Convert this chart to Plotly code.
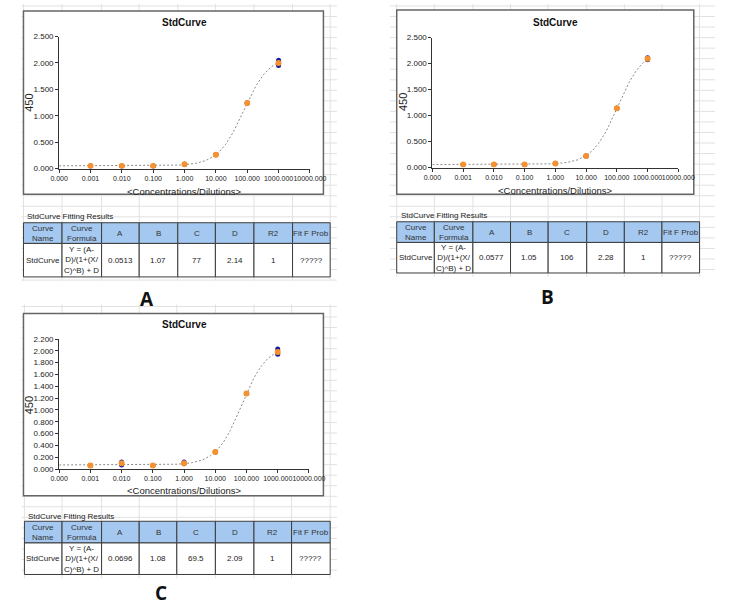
import numpy as np
import plotly.graph_objects as go

# ---------------- data ----------------
conc = [0.001, 0.01, 0.1, 1, 10, 100, 1000]

a_mean = [0.05, 0.05, 0.05, 0.08, 0.26, 1.24, 2.00]
a_rep1 = [0.05, 0.05, 0.05, 0.08, 0.26, 1.24, 2.05]
a_rep2 = [0.05, 0.05, 0.05, 0.08, 0.26, 1.24, 1.95]

b_mean = [0.06, 0.06, 0.06, 0.08, 0.22, 1.14, 2.09]
b_rep1 = [0.06, 0.06, 0.06, 0.08, 0.22, 1.14, 2.11]
b_rep2 = [0.06, 0.06, 0.06, 0.08, 0.22, 1.14, 2.07]

c_mean = [0.06, 0.10, 0.06, 0.10, 0.29, 1.28, 1.98]
c_rep1 = [0.06, 0.12, 0.06, 0.12, 0.29, 1.28, 2.03]
c_rep2 = [0.06, 0.07, 0.06, 0.09, 0.29, 1.28, 1.94]

# 4PL fit parameters as printed in each results table: A, B, C, D, R2
fit_a = [0.0513, 1.07, 77, 2.14, 1]
fit_b = [0.0577, 1.05, 106, 2.28, 1]
fit_c = [0.0696, 1.08, 69.5, 2.09, 1]
fit_prob = "?????"

x_tickvals = [1e-4, 1e-3, 1e-2, 1e-1, 1, 10, 100, 1000, 10000]
x_ticktext = ["0.000", "0.001", "0.010", "0.100", "1.000", "10.000",
              "100.000", "1000.000", "10000.000"]

header_text = ["Curve<br>Name", "Curve<br>Formula", "A", "B", "C", "D", "R2", "Fit F Prob"]
curve_name = "StdCurve"
curve_formula = "Y = (A-<br>D)/(1+(X/<br>C)^B) + D"

# ---------------- layout helpers ----------------
W, H = 732, 612
FONT = "Liberation Sans, Arial, sans-serif"


def fx(x):
    return x / W


def fy(y):
    return 1 - y / H


fig = go.Figure()
shapes = []
annotations = []

panels = [
    dict(label="A", mean=a_mean, r1=a_rep1, r2=a_rep2, fit=fit_a, ymax=2.5, dy=0.5,
         frame=(15, 7, 326, 193), plot=(52, 33, 312, 167),
         title=(182, 19), ytitle=(20, 100), xtitle=(182, 190),
         region=(13, 0, 340, 281),
         cols=[15, 55, 96, 135, 175, 214, 254, 294, 333], ttl_y=216,
         tbl=(222, 243, 277), letter=(143, 299)),
    dict(label="B", mean=b_mean, r1=b_rep1, r2=b_rep2, fit=fit_b, ymax=2.5, dy=0.5,
         frame=(402, 6, 710, 193), plot=(439, 34, 694, 166),
         title=(567, 19), ytitle=(408, 100), xtitle=(567, 189),
         region=(395, 0, 732, 277),
         cols=[402, 441, 481, 520, 559, 599, 638, 677, 716], ttl_y=215,
         tbl=(221, 242, 273), letter=(558, 297)),
    dict(label="C", mean=c_mean, r1=c_rep1, r2=c_rep2, fit=fit_c, ymax=2.2, dy=0.2,
         frame=(15, 314, 326, 499), plot=(52, 340, 311, 472),
         title=(182, 325), ytitle=(21, 407), xtitle=(182, 494),
         region=(13, 305, 340, 583),
         cols=[16, 55, 96, 135, 174, 214, 254, 293, 333], ttl_y=520,
         tbl=(525, 547, 579), letter=(158, 598)),
]

GRID = "#e1e1e1"

for i, p in enumerate(panels):
    n = "" if i == 0 else str(i + 1)
    xa, ya = "x" + n, "y" + n

    # --- excel sheet grid behind the chart object ---
    rx0, ry0, rx1, ry1 = p["region"]
    for c in p["cols"]:
        shapes.append(dict(type="line", xref="paper", yref="paper", layer="below",
                           x0=fx(c), x1=fx(c), y0=fy(ry0), y1=fy(ry1),
                           line=dict(color=GRID, width=1)))
    yy = ry0 + 2
    while yy < ry1:
        shapes.append(dict(type="line", xref="paper", yref="paper", layer="below",
                           x0=fx(rx0), x1=fx(rx1), y0=fy(yy), y1=fy(yy),
                           line=dict(color=GRID, width=1)))
        yy += 10.7

    # --- chart frame ---
    f0, g0, f1, g1 = p["frame"]
    shapes.append(dict(type="rect", xref="paper", yref="paper", layer="below",
                       x0=fx(f0), x1=fx(f1), y0=fy(g1), y1=fy(g0),
                       fillcolor="white", line=dict(color="#666666", width=1.5)))

    # --- fitted 4PL curve from the table parameters ---
    A, B, C, D, _ = p["fit"]
    xs = np.logspace(-4, 3, 300)
    ys = (A - D) / (1 + (xs / C) ** B) + D
    fig.add_trace(go.Scatter(x=xs, y=ys, mode="lines", xaxis=xa, yaxis=ya,
                             line=dict(color="#8a8a8a", width=1, dash="2px,2px"),
                             hoverinfo="skip", showlegend=False))
    # replicates (blue) and mean (orange)
    fig.add_trace(go.Scatter(x=conc + conc, y=p["r1"] + p["r2"], mode="markers",
                             xaxis=xa, yaxis=ya,
                             marker=dict(color="#1c1ca0", size=5),
                             hoverinfo="skip", showlegend=False))
    fig.add_trace(go.Scatter(x=conc, y=p["mean"], mode="markers", xaxis=xa, yaxis=ya,
                             marker=dict(color="#f5922f", size=6),
                             hoverinfo="skip", showlegend=False))

    px0, py0, px1, py1 = p["plot"]
    fig.layout["xaxis" + n] = dict(
        domain=[fx(px0), fx(px1)], anchor=ya, type="log", range=[-4, 4],
        tickvals=x_tickvals, ticktext=x_ticktext, tickangle=0,
        ticks="outside", ticklen=3, tickcolor="#333", showline=True,
        linecolor="#333", linewidth=1, showgrid=False, zeroline=False,
        tickfont=dict(size=7, family=FONT, color="#222"), fixedrange=True)
    fig.layout["yaxis" + n] = dict(
        domain=[fy(py1), fy(py0)], anchor=xa, range=[0, p["ymax"]],
        dtick=p["dy"], tick0=0, tickformat=".3f",
        ticks="outside", ticklen=3, tickcolor="#333", showline=True,
        linecolor="#333", linewidth=1, showgrid=False, zeroline=False,
        tickfont=dict(size=8, family=FONT, color="#222"), fixedrange=True)

    # --- chart texts ---
    tx, ty = p["title"]
    annotations.append(dict(text="<b>StdCurve</b>", x=fx(tx), y=fy(ty), xref="paper",
                            yref="paper", showarrow=False, xanchor="center",
                            yanchor="middle", font=dict(size=10, family=FONT, color="#111")))
    tx, ty = p["ytitle"]
    annotations.append(dict(text="450", x=fx(tx), y=fy(ty), xref="paper", yref="paper",
                            showarrow=False, textangle=-90, xanchor="center",
                            yanchor="middle", font=dict(size=11, family=FONT, color="#222")))
    tx, ty = p["xtitle"]
    annotations.append(dict(text="&lt;Concentrations/Dilutions&gt;", x=fx(tx), y=fy(ty),
                            xref="paper", yref="paper", showarrow=False,
                            xanchor="center", yanchor="middle",
                            font=dict(size=9.5, family=FONT, color="#222")))

    # --- fitting results table ---
    cols = p["cols"]
    t0, t1, t2 = p["tbl"]
    annotations.append(dict(text="StdCurve Fitting Results", x=fx(cols[0] + 2), y=fy(p["ttl_y"]),
                            xref="paper", yref="paper", showarrow=False,
                            xanchor="left", yanchor="middle",
                            font=dict(size=8, family=FONT, color="#222")))
    body = [curve_name, curve_formula] + [f"{v:g}" for v in p["fit"]] + [fit_prob]
    for k in range(8):
        shapes.append(dict(type="rect", xref="paper", yref="paper", layer="below",
                           x0=fx(cols[k]), x1=fx(cols[k + 1]), y0=fy(t1), y1=fy(t0),
                           fillcolor="#a5c8f0", line=dict(color="#3c3c3c", width=1)))
        shapes.append(dict(type="rect", xref="paper", yref="paper", layer="below",
                           x0=fx(cols[k]), x1=fx(cols[k + 1]), y0=fy(t2), y1=fy(t1),
                           fillcolor="white", line=dict(color="#3c3c3c", width=1)))
        cx = (cols[k] + cols[k + 1]) / 2
        annotations.append(dict(text=header_text[k], x=fx(cx), y=fy((t0 + t1) / 2),
                                xref="paper", yref="paper", showarrow=False,
                                xanchor="center", yanchor="middle",
                                font=dict(size=8, family=FONT, color="#333")))
        annotations.append(dict(text=body[k], x=fx(cx), y=fy((t1 + t2) / 2),
                                xref="paper", yref="paper", showarrow=False,
                                xanchor="center", yanchor="middle",
                                font=dict(size=8, family=FONT, color="#222")))

    lx, ly = p["letter"]
    annotations.append(dict(text="<b>" + p["label"] + "</b>", x=fx(lx), y=fy(ly),
                            xref="paper", yref="paper", showarrow=False,
                            xanchor="center", yanchor="middle",
                            font=dict(size=19, family="Open Sans, Liberation Sans", color="#111")))

fig.update_layout(width=W, height=H, margin=dict(l=0, r=0, t=0, b=0),
                  paper_bgcolor="white", plot_bgcolor="rgba(0,0,0,0)",
                  showlegend=False, shapes=shapes, annotations=annotations)

fig.write_html("out.html", config={"displayModeBar": False},
               post_script="document.body.style.margin='0';")
